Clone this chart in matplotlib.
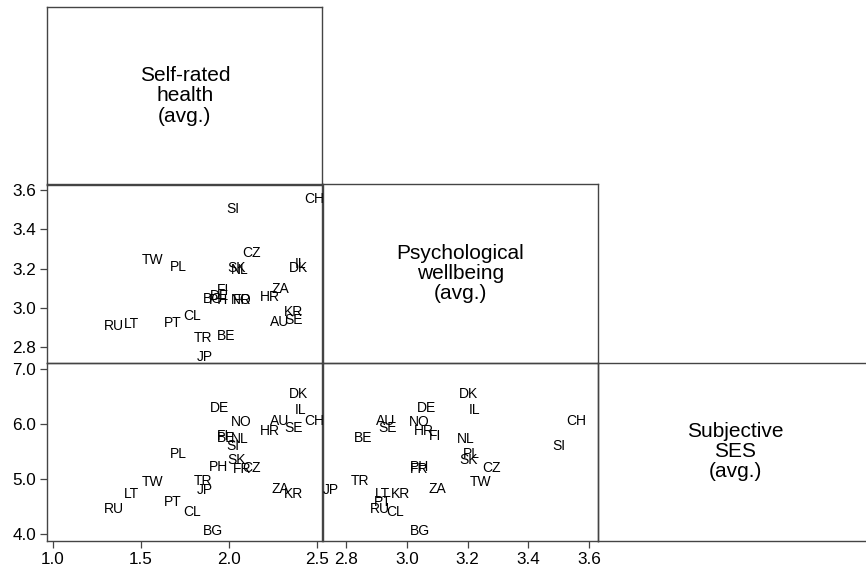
import matplotlib
matplotlib.use("Agg")
import matplotlib.pyplot as plt

# country averages: self-rated health, psychological wellbeing, subjective SES
countries = ["DK", "DE", "IL", "NO", "AU", "SE", "CH", "HR", "FI", "BE",
             "NL", "SI", "PL", "SK", "PH", "FR", "CZ", "TW", "TR", "JP",
             "LT", "ZA", "KR", "PT", "RU", "CL", "BG"]
srh = [2.396, 1.951, 2.411, 2.070, 2.291, 2.367, 2.485, 2.235, 1.966, 1.985,
       2.064, 2.023, 1.714, 2.045, 1.945, 2.076, 2.131, 1.566, 1.856, 1.865,
       1.449, 2.295, 2.367, 1.680, 1.348, 1.793, 1.909]
pwb = [3.204, 3.063, 3.224, 3.040, 2.930, 2.937, 3.557, 3.056, 3.092, 2.856,
       3.193, 3.502, 3.211, 3.204, 3.042, 3.041, 3.278, 3.242, 2.845, 2.748,
       2.919, 3.099, 2.978, 2.921, 2.910, 2.959, 3.044]
ses = [6.55, 6.29, 6.26, 6.05, 6.06, 5.94, 6.06, 5.87, 5.79, 5.75,
       5.73, 5.61, 5.46, 5.35, 5.22, 5.19, 5.21, 4.95, 4.97, 4.81,
       4.73, 4.82, 4.73, 4.59, 4.46, 4.40, 4.05]

var_names = ["Self-rated\nhealth\n(avg.)", "Psychological\nwellbeing\n(avg.)",
             "Subjective\nSES\n(avg.)"]
var_data = [srh, pwb, ses]
var_ticks = [[1.0, 1.5, 2.0, 2.5], [2.8, 3.0, 3.2, 3.4, 3.6], [4.0, 5.0, 6.0, 7.0]]
var_lims = [(0.969, 2.534), (2.721, 3.629), (3.878, 7.12)]

plt.rcParams["font.family"] = ["Liberation Sans", "DejaVu Sans"]

W, H = 866, 572
fig = plt.figure(figsize=(W / 100, H / 100), dpi=100)

col_left = [47.3, 322.5, 597.7]
row_top = [6.7, 184.5, 362.7]
pw, ph = 275.2, 178.2
frame = "#444444"

for i in range(3):
    for j in range(i + 1):
        ax = fig.add_axes([col_left[j] / W, 1 - (row_top[i] + ph) / H, pw / W, ph / H])
        ax.set_facecolor("none")
        for s in ax.spines.values():
            s.set_color(frame)
            s.set_linewidth(1.0)
        ax.tick_params(length=5, width=0.9, color=frame, labelsize=12.3,
                       pad=3, direction="out")
        if i == j:
            ax.set_xticks([])
            ax.set_yticks([])
            ax.text(0.5, 0.5, var_names[i], transform=ax.transAxes,
                    ha="center", va="center", fontsize=15, linespacing=1.08)
            continue
        xs, ys = var_data[j], var_data[i]
        ax.set_xlim(*var_lims[j])
        ax.set_ylim(*var_lims[i])
        # country codes as the markers; let them spill over panel edges
        for c, x, y in zip(countries, xs, ys):
            ax.text(x, y, c, ha="center", va="center", fontsize=10,
                    clip_on=False)
        if j == 0:
            ax.set_yticks(var_ticks[i])
            ax.set_yticklabels([f"{t:.1f}" for t in var_ticks[i]])
        else:
            ax.set_yticks([])
        if i == 2:
            ax.set_xticks(var_ticks[j])
            ax.set_xticklabels([f"{t:.1f}" for t in var_ticks[j]])
        else:
            ax.set_xticks([])

fig.savefig("out.png", dpi=100, facecolor="white")
